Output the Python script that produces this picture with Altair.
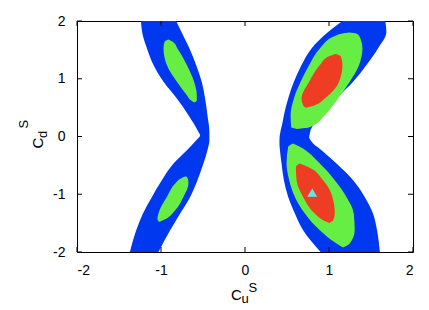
import altair as alt
import pandas as pd

# ---- region boundaries (y, left x, right x) ----
blue_left_y  = [2.0, 1.74, 1.525, 1.236, 0.946, 0.658, 0.369, 0.08, 0.02, -0.064, -0.237, -0.468, -0.757, -1.047, -1.334, -1.624, -2.0]
blue_left_xl = [-1.239, -1.215, -1.167, -1.089, -0.970, -0.811, -0.673, -0.554, -0.534, -0.58, -0.692, -0.851, -0.99, -1.108, -1.215, -1.295, -1.37]
blue_left_xr = [-0.82, -0.733, -0.661, -0.582, -0.515, -0.475, -0.447, -0.424, -0.424, -0.424, -0.447, -0.495, -0.566, -0.653, -0.772, -0.891, -1.03]

blue_right_y  = [2.0, 1.81, 1.525, 1.236, 0.946, 0.658, 0.369, 0.196, 0.109, 0.052, -0.006, -0.121, -0.237, -0.468, -0.757, -1.047, -1.334, -1.624, -2.0]
blue_right_xl = [1.16, 0.99, 0.792, 0.673, 0.582, 0.514, 0.463, 0.44, 0.425, 0.418, 0.412, 0.41, 0.416, 0.435, 0.463, 0.514, 0.594, 0.692, 0.90]
blue_right_xr = [1.67, 1.683, 1.583, 1.445, 1.287, 1.089, 0.911, 0.811, 0.78, 0.772, 0.764, 0.811, 0.911, 1.089, 1.287, 1.425, 1.524, 1.572, 1.605]

green_lu_y  = [1.68, 1.64, 1.525, 1.236, 0.946, 0.716, 0.629, 0.589]
green_lu_xl = [-0.911, -0.958, -0.970, -0.930, -0.811, -0.692, -0.645, -0.60]
green_lu_xr = [-0.911, -0.859, -0.804, -0.692, -0.606, -0.574, -0.574, -0.60]

green_ll_y  = [-0.69, -0.728, -0.815, -1.047, -1.277, -1.433, -1.48]
green_ll_xl = [-0.705, -0.764, -0.831, -0.93, -1.018, -1.042, -1.02]
green_ll_xr = [-0.705, -0.681, -0.673, -0.733, -0.831, -0.95, -1.02]

green_ru_y  = [1.80, 1.78, 1.74, 1.525, 1.236, 0.946, 0.658, 0.369, 0.16, 0.13]
green_ru_xl = [1.24, 1.15, 1.07, 0.891, 0.764, 0.662, 0.582, 0.543, 0.55, 0.62]
green_ru_xr = [1.24, 1.33, 1.36, 1.398, 1.358, 1.247, 1.108, 0.95, 0.77, 0.62]

green_rl_y  = [-0.121, -0.179, -0.468, -0.757, -1.047, -1.334, -1.624, -1.854, -1.924]
green_rl_xl = [0.574, 0.514, 0.495, 0.526, 0.594, 0.713, 0.891, 1.089, 1.167]
green_rl_xr = [0.574, 0.653, 0.891, 1.069, 1.208, 1.295, 1.306, 1.247, 1.167]

red_ru_y  = [1.43, 1.39, 1.236, 0.946, 0.658, 0.542, 0.496]
red_ru_xl = [1.08, 1.0, 0.891, 0.764, 0.673, 0.692, 0.724]
red_ru_xr = [1.08, 1.14, 1.16, 1.12, 0.95, 0.831, 0.724]

red_rl_y  = [-0.468, -0.526, -0.757, -1.047, -1.334, -1.45, -1.497]
red_rl_xl = [0.653, 0.606, 0.614, 0.692, 0.831, 0.93, 1.001]
red_rl_xr = [0.653, 0.752, 0.93, 1.041, 1.069, 1.05, 1.001]

best_x = [0.8]
best_y = [-0.97]

tick_values = [-2, -1, 0, 1, 2]

W, H = 336, 231
BLUE, GREEN, RED, CYAN = "#0038f0", "#66ee44", "#ee3d22", "#66e4ee"


def region(name, ys, xl, xr):
    return pd.DataFrame({"region": name, "y": ys, "xl": xl, "xr": xr})


blue_df = pd.concat([region("bl", blue_left_y, blue_left_xl, blue_left_xr),
                     region("br", blue_right_y, blue_right_xl, blue_right_xr)])
green_df = pd.concat([region("glu", green_lu_y, green_lu_xl, green_lu_xr),
                      region("gll", green_ll_y, green_ll_xl, green_ll_xr),
                      region("gru", green_ru_y, green_ru_xl, green_ru_xr),
                      region("grl", green_rl_y, green_rl_xl, green_rl_xr)])
red_df = pd.concat([region("rru", red_ru_y, red_ru_xl, red_ru_xr),
                    region("rrl", red_rl_y, red_rl_xl, red_rl_xr)])

xs = alt.Scale(domain=[-2, 2], nice=False, zero=False)
ys = alt.Scale(domain=[-2, 2], nice=False, zero=False)

xaxis = alt.Axis(values=tick_values, title=None, grid=False, domain=False, ticks=False,
                 labelPadding=11, labelFontSize=14, labelColor="black",
                 labelFont="Liberation Sans", labelExpr="datum.value + ''")
yaxis = alt.Axis(values=tick_values, title=None, grid=False, domain=False, ticks=False,
                 labelPadding=12, labelFontSize=14, labelColor="black",
                 labelFont="Liberation Sans", labelExpr="datum.value + ''")


def area_layer(df, color):
    return alt.Chart(df).mark_area(orient="horizontal", interpolate="monotone",
                                   clip=True, color=color, opacity=1).encode(
        y=alt.Y("y:Q", scale=ys, axis=yaxis),
        x=alt.X("xl:Q", scale=xs, axis=xaxis),
        x2="xr:Q",
        detail="region:N",
    )


layers = [area_layer(blue_df, BLUE),
          area_layer(green_df, GREEN),
          area_layer(red_df, RED)]

pt = alt.Chart(pd.DataFrame({"x": best_x, "y": best_y})).mark_point(
    shape="triangle-up", filled=True, color=CYAN, size=95, opacity=1).encode(
    x=alt.X("x:Q", scale=xs, axis=xaxis), y=alt.Y("y:Q", scale=ys, axis=yaxis))
layers.append(pt)

# inward ticks on all four sides
tdf = pd.DataFrame({"t": tick_values})
tl = 5
layers += [
    alt.Chart(tdf).mark_rule(color="black").encode(x=alt.X("t:Q", scale=xs, axis=xaxis), y=alt.value(H), y2=alt.value(H - tl)),
    alt.Chart(tdf).mark_rule(color="black").encode(x=alt.X("t:Q", scale=xs, axis=xaxis), y=alt.value(0), y2=alt.value(tl)),
    alt.Chart(tdf).mark_rule(color="black").encode(y=alt.Y("t:Q", scale=ys, axis=yaxis), x=alt.value(0), x2=alt.value(tl)),
    alt.Chart(tdf).mark_rule(color="black").encode(y=alt.Y("t:Q", scale=ys, axis=yaxis), x=alt.value(W), x2=alt.value(W - tl)),
]

# axis titles with sub/superscripts
def txt(s, x, y, size, angle=0):
    return alt.Chart(pd.DataFrame({"s": [s]})).mark_text(
        align="left", baseline="alphabetic", font="Liberation Sans", fontSize=size,
        color="black", angle=angle).encode(text="s:N", x=alt.value(x), y=alt.value(y))

layers += [
    txt("C", 154, 278.5, 15),
    txt("u", 164.5, 282, 13),
    txt("S", 171.5, 270.5, 13),
    txt("C", -33.7, 127.5, 15, angle=270),
    txt("d", -30.3, 117, 13, angle=270),
    txt("S", -49, 107.5, 13, angle=270),
]

chart = alt.layer(*layers).properties(
    width=W, height=H,
    autosize=alt.AutoSizeParams(type="none"),
    padding={"left": 69, "top": 13, "right": 8, "bottom": 56},
).configure_view(stroke="black", strokeWidth=1)

chart.save("out.html", embed_options={"renderer": "svg", "actions": False})
